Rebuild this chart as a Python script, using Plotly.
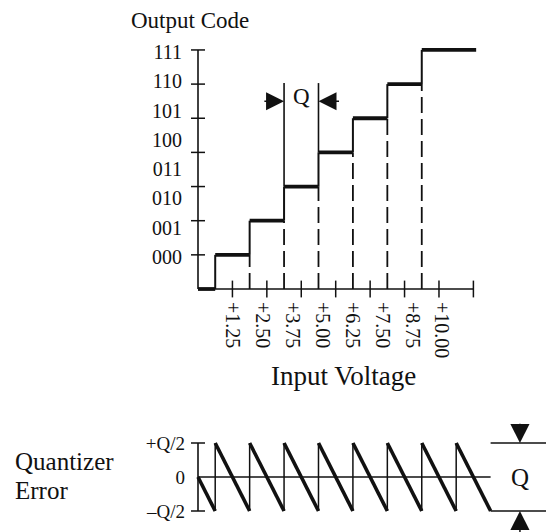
import plotly.graph_objects as go

# ---------------- data ----------------
codes = ["000", "001", "010", "011", "100", "101", "110", "111"]
voltage_ticks = [1.25, 2.50, 3.75, 5.00, 6.25, 7.50, 8.75, 10.00]
voltage_labels = ["+1.25", "+2.50", "+3.75", "+5.00", "+6.25", "+7.50", "+8.75", "+10.00"]
Q = 1.25  # one LSB in volts
# input voltages at which the output code steps up by one level
code_edges = [0.625, 1.875, 3.125, 4.375, 5.625, 6.875, 8.125]
staircase_end = 10.1
# the error trace runs one transition further
error_edges = [0.625, 1.875, 3.125, 4.375, 5.625, 6.875, 8.125, 9.375]
error_end = 10.625
error_tick_text = ["+Q/2", "0", "\u2013Q/2"]

# ---------------- layout geometry (pixels) ----------------
W, H = 546, 532
X0_PX, PX_PER_V = 198, 27.54          # input voltage scale, shared by both panels
TOP_BASE_PX, TOP_STEP_PX = 289, 34.15  # output level scale
BOT_ZERO_PX, BOT_PX_PER_V = 477, 54.4  # error scale
TOP_DOMAIN_PX = (40, 296)
BOT_DOMAIN_PX = (420, 530)

INK = "#111111"
SERIF = "Liberation Serif, Times New Roman, serif"


def paper_y(px):
    return (H - px) / H


x_range = [-X0_PX / PX_PER_V, (W - X0_PX) / PX_PER_V]
top_range = [(TOP_BASE_PX - TOP_DOMAIN_PX[1]) / TOP_STEP_PX,
             (TOP_BASE_PX - TOP_DOMAIN_PX[0]) / TOP_STEP_PX]
bot_range = [(BOT_ZERO_PX - BOT_DOMAIN_PX[1]) / BOT_PX_PER_V,
             (BOT_ZERO_PX - BOT_DOMAIN_PX[0]) / BOT_PX_PER_V]

# tick label placement along each axis (label pitch is tighter than tick pitch)
X_LABEL_FIRST, X_LABEL_PITCH = 1.27, 1.084
Y_LABEL_FIRST, Y_LABEL_PITCH = 0.94, 0.857
x_label_pos = [X_LABEL_FIRST + i * X_LABEL_PITCH for i in range(len(voltage_labels))]
y_label_pos = [Y_LABEL_FIRST + i * Y_LABEL_PITCH for i in range(len(codes))]


def segments(pairs):
    xs, ys = [], []
    for (xa, ya), (xb, yb) in pairs:
        xs += [xa, xb, None]
        ys += [ya, yb, None]
    return xs, ys


def line_trace(pairs, width, yaxis="y", dash=None):
    xs, ys = segments(pairs)
    return go.Scatter(x=xs, y=ys, mode="lines", yaxis=yaxis, hoverinfo="skip",
                      showlegend=False,
                      line=dict(color=INK, width=width, dash=dash))


def tick_trace(xs, ys, symbol, size, yaxis="y"):
    return go.Scatter(x=xs, y=ys, mode="markers", yaxis=yaxis, hoverinfo="skip",
                      showlegend=False, cliponaxis=False,
                      marker=dict(symbol=symbol, size=size,
                                  line=dict(color=INK, width=1.5)))


fig = go.Figure()

# ---------- transfer function (top panel) ----------
n_levels = len(codes) - 1
starts = [0.0] + code_edges
ends = code_edges + [staircase_end]

# axes
fig.add_trace(line_trace([((0, 0), (voltage_ticks[-1], 0)),
                          ((0, 0), (0, n_levels))], 1.6))
fig.add_trace(tick_trace(voltage_ticks, [0] * len(voltage_ticks), "line-ns", 12))
fig.add_trace(tick_trace([0] * n_levels, list(range(1, n_levels + 1)), "line-ew", 10))

# dashed drop lines from each step corner to the input axis
fig.add_trace(line_trace([((e, 0), (e, k)) for k, e in enumerate(code_edges) if k >= 1],
                         1.8, dash="16px,6px"))
# risers
fig.add_trace(line_trace([((e, k), (e, k + 1)) for k, e in enumerate(code_edges)], 2.0))
# treads
fig.add_trace(line_trace([((a, k), (b, k)) for k, (a, b) in enumerate(zip(starts, ends))], 3.8))

# Q dimension between two adjacent transitions
DIM_TOP, DIM_ARROW = 6.03, 5.5
qa, qb = code_edges[2], code_edges[3]
fig.add_trace(line_trace([((qa, 3), (qa, DIM_TOP)), ((qb, 4), (qb, DIM_TOP))], 1.6))

# ---------- quantizer error (bottom panel) ----------
e_starts = [0.0] + error_edges
e_ends = error_edges + [error_end]

fig.add_trace(line_trace([((0, 0), (error_end, 0))], 1.4, yaxis="y2"))
fig.add_trace(line_trace([((0, -Q / 2), (0, Q / 2))], 1.6, yaxis="y2"))
fig.add_trace(tick_trace([0, 0], [Q / 2, -Q / 2], "line-ew", 10, yaxis="y2"))
# extension lines for the Q span
fig.add_trace(line_trace([((error_end, Q / 2), (x_range[1], Q / 2)),
                          ((error_end, -Q / 2), (x_range[1], -Q / 2))], 1.4, yaxis="y2"))
# jumps at each transition
fig.add_trace(line_trace([((e, i * Q - e), (e, (i + 1) * Q - e))
                          for i, e in enumerate(error_edges)], 1.5, yaxis="y2"))
# error ramps: output level minus input
fig.add_trace(line_trace([((a, k * Q - a), (b, k * Q - b))
                          for k, (a, b) in enumerate(zip(e_starts, e_ends))], 3.6, yaxis="y2"))

# ---------- annotations ----------
ann = []


def arrow(x, y, ax, ay, yref, size):
    ann.append(dict(x=x, y=y, ax=ax, ay=ay, xref="x", yref=yref, axref="x", ayref=yref,
                    text="", showarrow=True, arrowhead=2, arrowsize=size, arrowwidth=1.5,
                    arrowcolor=INK, standoff=0))


arrow(qa, DIM_ARROW, qa - 0.77, DIM_ARROW, "y", 2.4)
arrow(qb, DIM_ARROW, qb + 0.80, DIM_ARROW, "y", 2.4)
ann.append(dict(x=(qa + qb) / 2, y=DIM_ARROW + 0.13, xref="x", yref="y", text="Q",
                xanchor="center", yanchor="middle", showarrow=False,
                font=dict(family=SERIF, size=23, color=INK)))

Q_DIM_X = 11.69
arrow(Q_DIM_X, Q / 2, Q_DIM_X, Q / 2 + 0.38, "y2", 2.55)
arrow(Q_DIM_X, -Q / 2, Q_DIM_X, -Q / 2 - 0.42, "y2", 2.55)
ann.append(dict(x=Q_DIM_X, y=0, xref="x", yref="y2", text="Q", showarrow=False,
                xanchor="center", yanchor="middle",
                font=dict(family=SERIF, size=25, color=INK)))


def label(text, xpx, ypx, size, xanchor="center"):
    ann.append(dict(x=xpx / W, y=paper_y(ypx), xref="paper", yref="paper", text=text,
                    xanchor=xanchor, yanchor="middle", showarrow=False,
                    font=dict(family=SERIF, size=size, color=INK)))


label("Output Code", 190, 20, 23)
label("Input Voltage", 343, 376, 27)
label("Quantizer", 13, 461, 25, "left")
label("Error", 13, 490, 25, "left")

axis_common = dict(showgrid=False, zeroline=False, showline=False, ticks="",
                   tickmode="array")

fig.update_layout(
    width=W, height=H, margin=dict(l=0, r=0, t=0, b=0),
    paper_bgcolor="white", plot_bgcolor="white",
    showlegend=False, annotations=ann,
    xaxis=dict(domain=[0, 1], range=x_range, anchor="free",
               position=paper_y(TOP_BASE_PX), tickvals=x_label_pos,
               ticktext=voltage_labels, tickangle=90, ticklabelstandoff=12,
               tickfont=dict(family=SERIF, size=20, color=INK), **axis_common),
    yaxis=dict(domain=[paper_y(TOP_DOMAIN_PX[1]), paper_y(TOP_DOMAIN_PX[0])],
               range=top_range, anchor="free", position=X0_PX / W,
               tickvals=y_label_pos, ticktext=codes, ticklabelstandoff=16,
               tickfont=dict(family=SERIF, size=20, color=INK), **axis_common),
    yaxis2=dict(domain=[paper_y(BOT_DOMAIN_PX[1]), paper_y(BOT_DOMAIN_PX[0])],
                range=bot_range, anchor="free", position=X0_PX / W,
                tickvals=[Q / 2, 0, -Q / 2], ticktext=error_tick_text,
                ticklabelstandoff=13,
                tickfont=dict(family=SERIF, size=19, color=INK), **axis_common),
)

fig.write_html("out.html")
